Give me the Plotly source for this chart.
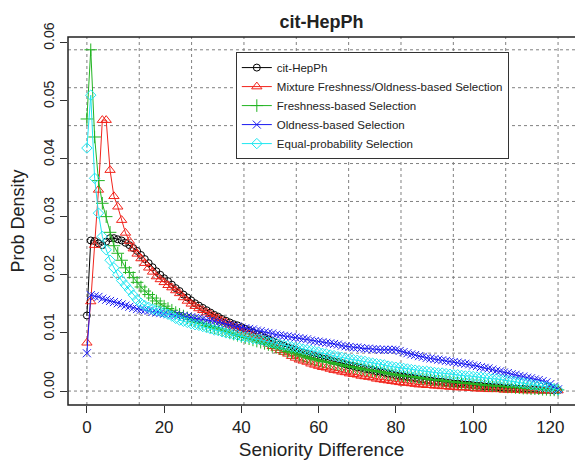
import numpy as np
import plotly.graph_objects as go

seniority = list(range(0, 123))

cit_hepph = [
    0.0130, 0.0259, 0.0258, 0.0254, 0.0251, 0.0257, 0.0263, 0.0263, 0.0261, 0.0259,
    0.0255, 0.0251, 0.0246, 0.0241, 0.0234, 0.0227, 0.0220, 0.0213, 0.0206, 0.0200,
    0.0194, 0.0189, 0.0183, 0.0177, 0.0172, 0.0166, 0.0161, 0.0156, 0.0151, 0.0147,
    0.0143, 0.0139, 0.0135, 0.0131, 0.0128, 0.0124, 0.0121, 0.0118, 0.0115, 0.0113,
    0.0110, 0.0107, 0.0104, 0.0101, 0.0098, 0.0095, 0.0092, 0.0089, 0.0086, 0.0083,
    0.0080, 0.0078, 0.0075, 0.0073, 0.0071, 0.0068, 0.0066, 0.0064, 0.0062, 0.0060,
    0.0058, 0.0056, 0.0055, 0.0053, 0.0051, 0.0050, 0.0048, 0.0046, 0.0044, 0.0043,
    0.0041, 0.0040, 0.0038, 0.0037, 0.0036, 0.0034, 0.0033, 0.0032, 0.0030, 0.0029,
    0.0027, 0.0026, 0.0025, 0.0024, 0.0023, 0.0022, 0.0021, 0.0020, 0.0019, 0.0018,
    0.0017, 0.0016, 0.0016, 0.0015, 0.0014, 0.0013, 0.0013, 0.0012, 0.0011, 0.0011,
    0.0010, 0.0009, 0.0009, 0.0008, 0.0008, 0.0007, 0.0007, 0.0006, 0.0005, 0.0005,
    0.0005, 0.0004, 0.0004, 0.0004, 0.0003, 0.0003, 0.0003, 0.0002, 0.0002, 0.0002,
    0.0002, 0.0001, 0.0001,
]

mixture_sel = [
    0.0083, 0.0154, 0.0251, 0.0346, 0.0466, 0.0466, 0.0380, 0.0335, 0.0317, 0.0294,
    0.0272, 0.0258, 0.0245, 0.0236, 0.0228, 0.0220, 0.0212, 0.0205, 0.0197, 0.0192,
    0.0187, 0.0182, 0.0178, 0.0173, 0.0168, 0.0161, 0.0155, 0.0150, 0.0146, 0.0142,
    0.0139, 0.0135, 0.0132, 0.0128, 0.0125, 0.0121, 0.0118, 0.0114, 0.0111, 0.0108,
    0.0105, 0.0102, 0.0098, 0.0095, 0.0091, 0.0088, 0.0084, 0.0081, 0.0077, 0.0074,
    0.0070, 0.0067, 0.0064, 0.0060, 0.0057, 0.0054, 0.0052, 0.0050, 0.0047, 0.0045,
    0.0043, 0.0041, 0.0040, 0.0038, 0.0036, 0.0035, 0.0033, 0.0032, 0.0030, 0.0029,
    0.0028, 0.0026, 0.0025, 0.0024, 0.0023, 0.0021, 0.0020, 0.0019, 0.0018, 0.0017,
    0.0016, 0.0015, 0.0014, 0.0014, 0.0013, 0.0012, 0.0011, 0.0011, 0.0010, 0.0010,
    0.0009, 0.0009, 0.0008, 0.0008, 0.0007, 0.0007, 0.0006, 0.0006, 0.0006, 0.0005,
    0.0005, 0.0004, 0.0004, 0.0004, 0.0003, 0.0003, 0.0003, 0.0003, 0.0002, 0.0002,
    0.0002, 0.0002, 0.0002, 0.0001, 0.0001, 0.0001, 0.0001, 0.0001, 0.0001, 0.0001,
    0.0001, 0.0001, 0.0001,
]

freshness_sel = [
    0.0468, 0.0587, 0.0437, 0.0362, 0.0323, 0.0300, 0.0273, 0.0250, 0.0237, 0.0225,
    0.0212, 0.0204, 0.0195, 0.0187, 0.0179, 0.0172, 0.0166, 0.0160, 0.0155, 0.0150,
    0.0146, 0.0142, 0.0139, 0.0135, 0.0132, 0.0129, 0.0126, 0.0123, 0.0120, 0.0118,
    0.0116, 0.0113, 0.0111, 0.0109, 0.0107, 0.0105, 0.0103, 0.0100, 0.0098, 0.0096,
    0.0094, 0.0092, 0.0090, 0.0088, 0.0086, 0.0084, 0.0082, 0.0080, 0.0077, 0.0075,
    0.0073, 0.0071, 0.0068, 0.0066, 0.0064, 0.0062, 0.0060, 0.0058, 0.0056, 0.0054,
    0.0053, 0.0051, 0.0050, 0.0049, 0.0047, 0.0046, 0.0045, 0.0043, 0.0042, 0.0041,
    0.0040, 0.0038, 0.0037, 0.0036, 0.0035, 0.0034, 0.0033, 0.0032, 0.0030, 0.0029,
    0.0028, 0.0027, 0.0026, 0.0025, 0.0025, 0.0024, 0.0023, 0.0022, 0.0021, 0.0020,
    0.0019, 0.0019, 0.0018, 0.0017, 0.0016, 0.0016, 0.0015, 0.0014, 0.0014, 0.0013,
    0.0012, 0.0012, 0.0011, 0.0010, 0.0010, 0.0009, 0.0009, 0.0008, 0.0008, 0.0007,
    0.0007, 0.0006, 0.0006, 0.0005, 0.0005, 0.0004, 0.0004, 0.0004, 0.0003, 0.0003,
    0.0002, 0.0002, 0.0002,
]

oldness_sel = [
    0.0065, 0.0165, 0.0163, 0.0162, 0.0159, 0.0157, 0.0155, 0.0153, 0.0151, 0.0149,
    0.0147, 0.0145, 0.0143, 0.0141, 0.0140, 0.0139, 0.0138, 0.0136, 0.0135, 0.0134,
    0.0133, 0.0132, 0.0132, 0.0131, 0.0130, 0.0129, 0.0128, 0.0127, 0.0126, 0.0125,
    0.0124, 0.0122, 0.0121, 0.0120, 0.0118, 0.0117, 0.0115, 0.0114, 0.0112, 0.0111,
    0.0109, 0.0108, 0.0107, 0.0106, 0.0104, 0.0103, 0.0101, 0.0100, 0.0099, 0.0097,
    0.0096, 0.0095, 0.0094, 0.0093, 0.0092, 0.0091, 0.0090, 0.0089, 0.0087, 0.0086,
    0.0085, 0.0084, 0.0083, 0.0082, 0.0081, 0.0080, 0.0078, 0.0077, 0.0076, 0.0075,
    0.0075, 0.0074, 0.0073, 0.0073, 0.0072, 0.0072, 0.0071, 0.0071, 0.0071, 0.0071,
    0.0071, 0.0069, 0.0067, 0.0065, 0.0063, 0.0062, 0.0060, 0.0059, 0.0057, 0.0056,
    0.0055, 0.0054, 0.0053, 0.0052, 0.0051, 0.0050, 0.0049, 0.0048, 0.0047, 0.0046,
    0.0044, 0.0043, 0.0041, 0.0040, 0.0039, 0.0037, 0.0035, 0.0034, 0.0032, 0.0031,
    0.0029, 0.0028, 0.0026, 0.0025, 0.0023, 0.0022, 0.0020, 0.0019, 0.0017, 0.0015,
    0.0012, 0.0008, 0.0003,
]

equal_prob_sel = [
    0.0418, 0.0509, 0.0366, 0.0306, 0.0266, 0.0243, 0.0225, 0.0212, 0.0200, 0.0190,
    0.0182, 0.0174, 0.0165, 0.0157, 0.0151, 0.0147, 0.0144, 0.0141, 0.0139, 0.0137,
    0.0135, 0.0132, 0.0129, 0.0125, 0.0122, 0.0120, 0.0118, 0.0116, 0.0114, 0.0113,
    0.0111, 0.0109, 0.0107, 0.0105, 0.0104, 0.0102, 0.0100, 0.0099, 0.0097, 0.0096,
    0.0094, 0.0093, 0.0092, 0.0090, 0.0089, 0.0088, 0.0086, 0.0085, 0.0083, 0.0082,
    0.0080, 0.0079, 0.0078, 0.0076, 0.0075, 0.0074, 0.0072, 0.0071, 0.0070, 0.0068,
    0.0067, 0.0065, 0.0064, 0.0062, 0.0061, 0.0059, 0.0058, 0.0056, 0.0055, 0.0054,
    0.0053, 0.0052, 0.0051, 0.0049, 0.0048, 0.0047, 0.0046, 0.0045, 0.0043, 0.0042,
    0.0041, 0.0040, 0.0039, 0.0038, 0.0037, 0.0036, 0.0035, 0.0034, 0.0034, 0.0033,
    0.0032, 0.0031, 0.0031, 0.0030, 0.0029, 0.0028, 0.0028, 0.0027, 0.0026, 0.0026,
    0.0025, 0.0024, 0.0024, 0.0023, 0.0022, 0.0021, 0.0021, 0.0020, 0.0019, 0.0018,
    0.0017, 0.0016, 0.0015, 0.0014, 0.0013, 0.0011, 0.0010, 0.0009, 0.0008, 0.0007,
    0.0006, 0.0004, 0.0002,
]

series_names = [
    "cit-HepPh",
    "Mixture Freshness/Oldness-based Selection",
    "Freshness-based Selection",
    "Oldness-based Selection",
    "Equal-probability Selection",
]
series_values = [cit_hepph, mixture_sel, freshness_sel, oldness_sel, equal_prob_sel]
series_colors = ["#000000", "#F2231B", "#22B422", "#1A1AF0", "#1EE6F0"]
series_symbols = ["circle-open", "triangle-up-open", "cross-thin-open", "x-thin-open", "diamond-open"]
series_sizes = [7, 9, 9, 8, 8]

x_ticks = [0, 20, 40, 60, 80, 100, 120]
y_ticks = [0.00, 0.01, 0.02, 0.03, 0.04, 0.05, 0.06]

FONT = "Liberation Sans, Arial, Helvetica, sans-serif"
TXT = "#222222"

fig = go.Figure()
for name, vals, col, sym, sz in zip(series_names, series_values, series_colors, series_symbols, series_sizes):
    fig.add_trace(go.Scatter(
        x=seniority, y=vals, name=name, mode="lines+markers",
        line=dict(color=col, width=1),
        marker=dict(symbol=sym, size=sz, color=col, line=dict(color=col, width=1)),
    ))

# dotted reference grid: equal divisions of the data range
xmax = max(seniority)
ymax = max(max(v) for v in series_values)
shapes = []
for gx in np.linspace(0, xmax, 10):
    shapes.append(dict(type="line", xref="x", yref="paper", x0=gx, x1=gx, y0=0, y1=1,
                       line=dict(color="#808080", width=1, dash="dot"), layer="below"))
for gy in np.linspace(0, ymax, 10):
    shapes.append(dict(type="line", xref="paper", yref="y", x0=0, x1=1, y0=gy, y1=gy,
                       line=dict(color="#808080", width=1, dash="dot"), layer="below"))
shapes.append(dict(type="rect", xref="paper", yref="paper", x0=0, x1=1.02, y0=0, y1=1,
                   line=dict(color="#222222", width=1.5), fillcolor="rgba(0,0,0,0)", layer="above"))

fig.update_layout(
    width=575, height=463,
    margin=dict(l=68, r=0, t=37, b=58, autoexpand=False),
    paper_bgcolor="white", plot_bgcolor="white",
    font=dict(family=FONT, color=TXT),
    title=dict(text="<b>cit-HepPh</b>", x=0.5, xref="paper", xanchor="center",
               y=1 - 22 / 463, yref="container", yanchor="middle",
               font=dict(size=18, family=FONT, color=TXT)),
    shapes=shapes,
    showlegend=True,
    legend=dict(x=0.331, y=0.959, xanchor="left", yanchor="top",
                bgcolor="white", bordercolor="#333333", borderwidth=1,
                font=dict(size=11.5, family=FONT, color=TXT),
                tracegroupgap=0),
)
fig.update_xaxes(
    automargin=False,
    range=[-4.89, 126.39], tickvals=x_ticks, ticktext=[str(t) for t in x_ticks],
    showgrid=False, zeroline=False, ticks="outside", ticklen=7, tickwidth=1, tickcolor="#333333",
    showline=False, tickfont=dict(size=17, family=FONT, color=TXT),
    title=dict(text="Seniority Difference", font=dict(size=19, family=FONT, color=TXT), standoff=6),
)
fig.update_yaxes(
    automargin=False,
    range=[-0.0024, 0.0609], tickvals=y_ticks, ticktext=["%.2f" % t for t in y_ticks],
    tickangle=-90, ticklabelshift=-4,
    showgrid=False, zeroline=False, ticks="outside", ticklen=7, tickwidth=1, tickcolor="#333333",
    showline=False, tickfont=dict(size=14, family=FONT, color=TXT),
    title=dict(text="Prob Density", font=dict(size=18, family=FONT, color=TXT), standoff=12),
)

fig.write_html(
    "out.html",
    config={"displayModeBar": False},
    post_script="document.body.style.margin='0';document.body.style.overflow='hidden';",
)
